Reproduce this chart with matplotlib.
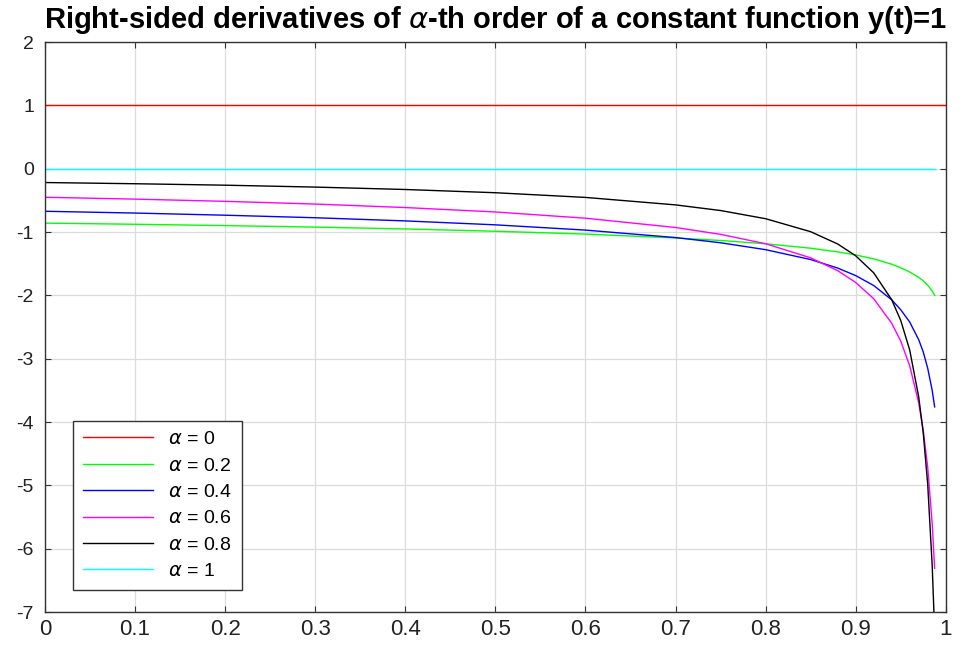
import matplotlib
matplotlib.use("Agg")
import matplotlib.pyplot as plt

plt.rcParams['font.family'] = ['Liberation Sans', 'DejaVu Sans']
plt.rcParams['axes.unicode_minus'] = False

# sample times
t = [0, 0.1, 0.2, 0.3, 0.4, 0.5, 0.6, 0.7, 0.75, 0.8, 0.85, 0.88, 0.9,
     0.92, 0.94, 0.95, 0.96, 0.97, 0.975, 0.98, 0.985, 0.9877]

alpha_0 = [1] * len(t)
alpha_02 = [-0.859, -0.877, -0.898, -0.922, -0.951, -0.987, -1.032, -1.093,
            -1.133, -1.185, -1.255, -1.313, -1.361, -1.423, -1.508, -1.564,
            -1.630, -1.715, -1.770, -1.840, -1.930, -2.000]
alpha_04 = [-0.672, -0.700, -0.734, -0.774, -0.824, -0.886, -0.969, -1.087,
            -1.169, -1.278, -1.434, -1.568, -1.687, -1.844, -2.069, -2.226,
            -2.420, -2.700, -2.890, -3.150, -3.500, -3.760]
alpha_06 = [-0.451, -0.480, -0.515, -0.558, -0.613, -0.683, -0.781, -0.928,
            -1.036, -1.184, -1.407, -1.609, -1.795, -2.052, -2.439, -2.720,
            -3.110, -3.696, -4.123, -4.714, -5.602, -6.310]
alpha_08 = [-0.218, -0.237, -0.260, -0.290, -0.328, -0.379, -0.453, -0.571,
            -0.660, -0.789, -0.994, -1.188, -1.374, -1.643, -2.068, -2.393,
            -2.861, -3.601, -4.166, -4.980, -6.270, -7.300]
alpha_1 = [0] * len(t)

labels = [r'$\alpha$ = 0', r'$\alpha$ = 0.2', r'$\alpha$ = 0.4',
          r'$\alpha$ = 0.6', r'$\alpha$ = 0.8', r'$\alpha$ = 1']
colors = ['#ff0000', '#00ff00', '#0000ff', '#ff00ff', '#000000', '#00ffff']

fig = plt.figure(figsize=(9.79, 6.47), dpi=100)
ax = fig.add_axes([0.046, 0.054, 0.92, 0.881])

# red line reaches t = 1, the others stop just before
ax.plot(t + [1.0], alpha_0 + [1], color=colors[0], lw=1.0, label=labels[0])
series = [alpha_02, alpha_04, alpha_06, alpha_08, alpha_1]
for ys, c, lab in zip(series, colors[1:], labels[1:]):
    ax.plot(t, ys, color=c, lw=1.0, label=lab)

ax.set_xlim(0, 1)
ax.set_ylim(-7, 2)
ax.set_xticks([i / 10 for i in range(11)])
ax.set_xticklabels(['0', '0.1', '0.2', '0.3', '0.4', '0.5', '0.6', '0.7', '0.8', '0.9', '1'])
ax.set_yticks(range(-7, 3))
ax.grid(True, color='#dcdcdc', lw=0.9)
ax.tick_params(direction='in', top=True, right=True, length=4,
               color='#333333')
ax.tick_params(axis='x', labelsize=16, pad=5)
ax.tick_params(axis='y', labelsize=14, pad=8)
for lab in ax.get_xticklabels() + ax.get_yticklabels():
    lab.set_color('#222222')
for s in ax.spines.values():
    s.set_color('#333333')
    s.set_linewidth(1.0)

ax.set_title(r'Right-sided derivatives of $\alpha$-th order of a constant function y(t)=1',
             fontsize=21, fontweight='bold', pad=10)

leg = ax.legend(loc='lower left', bbox_to_anchor=(0.031, 0.039), fontsize=14,
                handlelength=3.6, handletextpad=0.8, labelspacing=0.45,
                borderpad=0.5, borderaxespad=0, fancybox=False, framealpha=1)
leg.get_frame().set_edgecolor('#333333')
leg.get_frame().set_linewidth(1.0)

plt.savefig("out.png", dpi=100)
